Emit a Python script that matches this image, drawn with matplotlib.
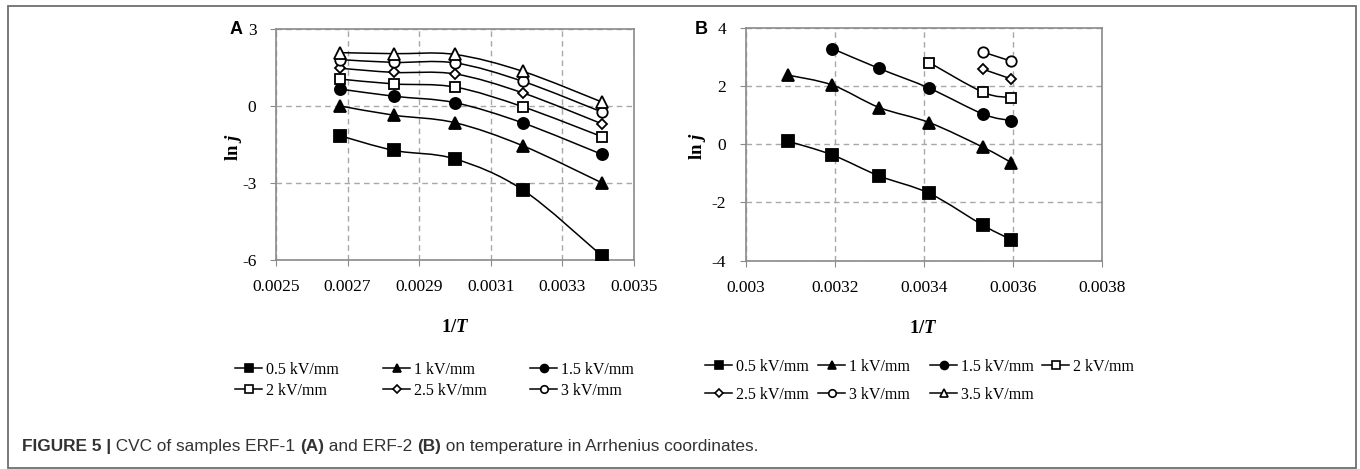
import numpy as np
import matplotlib
matplotlib.use("Agg")
import matplotlib.pyplot as plt
from matplotlib.path import Path
from matplotlib.patches import PathPatch, Rectangle
from matplotlib.lines import Line2D

plt.rcParams['font.family'] = ['Liberation Serif', 'DejaVu Serif']

# ---- panel A (ERF-1) ----
a_x = [0.00268, 0.00283, 0.00300, 0.00319, 0.00341]
a_labels = ["0.5 kV/mm", "1 kV/mm", "1.5 kV/mm", "2 kV/mm", "2.5 kV/mm", "3 kV/mm", "3.5 kV/mm"]
a_05 = [-1.16, -1.73, -2.06, -3.27, -5.83]
a_10 = [0.00, -0.36, -0.65, -1.55, -2.99]
a_15 = [0.66, 0.38, 0.13, -0.66, -1.88]
a_20 = [1.05, 0.86, 0.74, -0.03, -1.19]
a_25 = [1.47, 1.31, 1.25, 0.51, -0.69]
a_30 = [1.81, 1.70, 1.68, 0.96, -0.23]
a_35 = [2.08, 2.04, 2.01, 1.35, 0.16]
a_xticks = [0.0025, 0.0027, 0.0029, 0.0031, 0.0033, 0.0035]
a_yticks = [-6, -3, 0, 3]

# ---- panel B (ERF-2) ----
b_labels = ["0.5 kV/mm", "1 kV/mm", "1.5 kV/mm", "2 kV/mm", "2.5 kV/mm", "3 kV/mm", "3.5 kV/mm"]
b_x05 = [0.003096, 0.003195, 0.003300, 0.003413, 0.003534, 0.003597]
b_05 = [0.10, -0.37, -1.09, -1.69, -2.79, -3.28]
b_x10 = [0.003096, 0.003195, 0.003300, 0.003413, 0.003534, 0.003597]
b_10 = [2.37, 2.03, 1.26, 0.74, -0.11, -0.63]
b_x15 = [0.003195, 0.003300, 0.003413, 0.003534, 0.003597]
b_15 = [3.28, 2.60, 1.92, 1.03, 0.81]
b_x20 = [0.003413, 0.003534, 0.003597]
b_20 = [2.80, 1.78, 1.60]
b_x25 = [0.003534, 0.003597]
b_25 = [2.57, 2.24]
b_x30 = [0.003534, 0.003597]
b_30 = [3.16, 2.85]
b_x35 = []
b_35 = []
b_xticks = [0.003, 0.0032, 0.0034, 0.0036, 0.0038]
b_yticks = [-4, -2, 0, 2, 4]

caption_bold = "FIGURE 5 |"
caption_rest = " CVC of samples ERF-1 "

# marker styles per field strength: (marker, size, filled)
styles = [("s", 8, True), ("^", 8.5, True), ("o", 8, True),
          ("s", 7.5, False), ("D", 5.5, False), ("o", 7.5, False), ("^", 8, False)]


def smooth_line(ax, xs, ys):
    # excel-like smoothed line: catmull-rom -> cubic bezier segments
    if len(xs) < 2:
        return
    pts = np.column_stack([xs, ys]).astype(float)
    verts = [pts[0]]
    codes = [Path.MOVETO]
    n = len(pts)
    for i in range(n - 1):
        p0 = pts[i - 1] if i > 0 else pts[i]
        p1 = pts[i]
        p2 = pts[i + 1]
        p3 = pts[i + 2] if i + 2 < n else pts[i + 1]
        c1 = p1 + (p2 - p0) / 6.0
        c2 = p2 - (p3 - p1) / 6.0
        verts += [c1, c2, p2]
        codes += [Path.CURVE4] * 3
    ax.add_patch(PathPatch(Path(verts, codes), facecolor="none",
                           edgecolor="black", lw=1.1, zorder=3))


def draw_series(ax, xs, ys, style):
    m, ms, filled = style
    smooth_line(ax, xs, ys)
    ax.plot(xs, ys, ls="none", marker=m, ms=ms, mew=1.3,
            mfc="black" if filled else "white", mec="black", zorder=4)


def style_axes(ax, xticks, yticks, xfmt, ylab_x):
    ax.set_xlim(xticks[0], xticks[-1])
    ax.set_ylim(yticks[0], yticks[-1])
    ax.set_xticks(xticks)
    ax.set_yticks(yticks)
    ax.set_xticklabels([xfmt(v) for v in xticks])
    ax.set_yticklabels([str(v) for v in yticks])
    for s in ax.spines.values():
        s.set_color("#8a8a8a")
        s.set_linewidth(1.2)
    ax.grid(True, ls=(0, (4, 3)), color="#a8a8a8", lw=1.0)
    ax.tick_params(direction="out", length=4, color="#8a8a8a",
                   labelsize=12.5, pad=10)
    ax.set_axisbelow(True)
    ax.set_xlabel("1/$\\mathbf{\\mathit{T}}$", fontsize=13.5, fontweight="bold", labelpad=17)
    ax.set_ylabel("ln $\\mathbf{\\mathit{j}}$", fontsize=13.5, fontweight="bold")
    ax.yaxis.set_label_coords(ylab_x, 0.49)


plt.rcParams['mathtext.fontset'] = 'custom'
plt.rcParams['mathtext.it'] = 'Liberation Serif:italic:bold'
plt.rcParams['mathtext.bf'] = 'Liberation Serif:bold'

fig = plt.figure(figsize=(13.6, 4.69), dpi=100)

# outer frame
fig.patches.append(Rectangle((0.0059, 0.002), 0.991, 0.985, transform=fig.transFigure,
                             fill=False, edgecolor="#6e6e6e", lw=1.3))

axA = fig.add_axes([0.2029, 0.4456, 0.2632, 0.4925])
a_series = [a_05, a_10, a_15, a_20, a_25, a_30, a_35]
for ys, st in zip(a_series, styles):
    draw_series(axA, a_x, ys, st)
style_axes(axA, a_xticks, a_yticks, lambda v: "%.4f" % v, -0.09)

axB = fig.add_axes([0.5483, 0.4441, 0.2618, 0.4968])
b_series = [(b_x05, b_05), (b_x10, b_10), (b_x15, b_15), (b_x20, b_20),
            (b_x25, b_25), (b_x30, b_30), (b_x35, b_35)]
for (xs, ys), st in zip(b_series, styles):
    if xs:
        draw_series(axB, xs, ys, st)
fmtB = lambda v: ("%.4f" % v).rstrip("0") if v != 0.003 else "0.003"
style_axes(axB, b_xticks, b_yticks, fmtB, -0.105)

fig.text(230 / 1360, 1 - 29 / 469, "A", family="Liberation Sans", fontweight="bold",
         fontsize=13, va="center", ha="left")
fig.text(695 / 1360, 1 - 29 / 469, "B", family="Liberation Sans", fontweight="bold",
         fontsize=13, va="center", ha="left")


def legend_handle(style):
    m, ms, filled = style
    return Line2D([0], [0], color="black", lw=1.1, marker=m, ms=ms * 0.72, mew=1.2,
                  mfc="black" if filled else "white", mec="black")


def column_legends(idx_cols, labels, x_starts, y_top, spacing):
    for col, x0 in zip(idx_cols, x_starts):
        hs = [legend_handle(styles[i]) for i in col]
        ls = [labels[i] for i in col]
        fig.legend(hs, ls, loc="upper left", bbox_to_anchor=(x0 / 1360, 1 - y_top / 469),
                   frameon=False, fontsize=11.5, handlelength=1.7, handletextpad=0.25,
                   borderpad=0, borderaxespad=0, labelspacing=spacing)


column_legends([[0, 3], [1, 4], [2, 5]], a_labels, [235, 383, 530], 362, 0.3)
column_legends([[0, 4], [1, 5], [2, 6], [3]], b_labels, [705, 818, 930, 1042], 359, 0.75)

# caption
t = fig.text(22 / 1360, 1 - 446 / 469, caption_bold, family="Liberation Sans",
             fontweight="bold", fontsize=12.4, color="#333333", va="center")
fig.canvas.draw()
r = fig.canvas.get_renderer()
parts = [(caption_rest, "normal"), ("(A)", "bold"), (" and ERF-2 ", "normal"), ("(B)", "bold"),
         (" on temperature in Arrhenius coordinates.", "normal")]
prev = t
for txt, w in parts:
    bb = prev.get_window_extent(renderer=r)
    prev = fig.text(bb.x1 / fig.bbox.width, 1 - 446 / 469, txt, family="Liberation Sans",
                    fontweight=w, fontsize=12.4, color="#333333", va="center")
    fig.canvas.draw()

fig.savefig("out.png", dpi=100)
